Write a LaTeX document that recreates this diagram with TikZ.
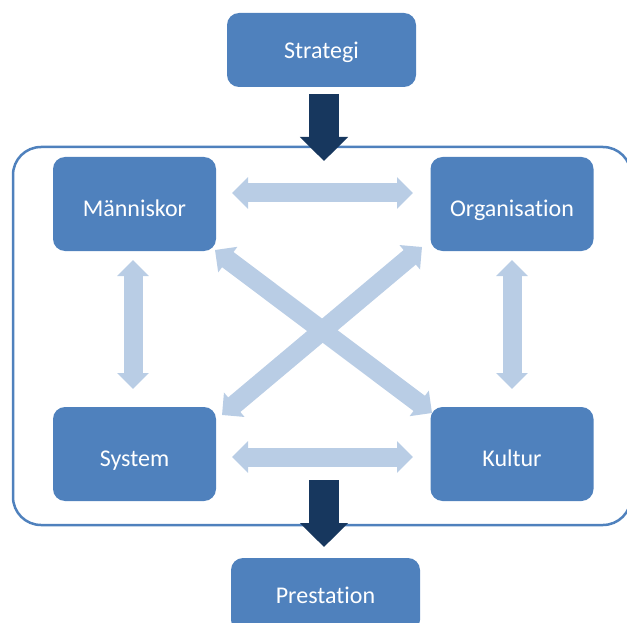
\documentclass[tikz,border=0pt]{standalone}
\usepackage{fontspec}
\setmainfont{Carlito}[Ligatures=NoCommon]
\usetikzlibrary{arrows.meta}
\definecolor{boxblue}{HTML}{4F81BD}
\definecolor{linkblue}{HTML}{B9CDE5}
\definecolor{flownavy}{HTML}{17375E}
\begin{document}
\begin{tikzpicture}[x=1pt,y=-1pt,
  block/.style={fill=boxblue, draw=none, rounded corners=12pt, text=white,
    font=\fontsize{24}{28}\selectfont, minimum width=163pt, minimum height=94pt,
    inner sep=0pt, text height=24pt, text depth=0pt},
  wideblock/.style={block, minimum width=189pt, minimum height=74pt, text height=18pt},
  link/.style={draw=linkblue, line width=19pt,
    {Triangle[width=31pt,length=16pt]}-{Triangle[width=31pt,length=16pt]}},
  flow/.style={draw=flownavy, line width=30pt, -{Triangle[width=47pt,length=24pt]}},
  frame/.style={draw=boxblue, line width=2.5pt, rounded corners=28pt}]
\useasboundingbox (0,0) rectangle (627,623);
\clip (0,0) rectangle (627,623);

% enclosing frame
\draw[frame] (13,147) rectangle (631,525);

% blocks
\node[wideblock] (strat) at (321.5,50) {Strategi};
\node[block] (mann) at (134.5,204) {Människor};
\node[block] (org) at (512,204) {Organisation};
\node[block] (sys) at (134.5,454) {System};
\node[block] (kult) at (512,454) {Kultur};
\node[wideblock, text height=16pt] (prest) at (325.5,595) {Prestation};

% ends of the two-way links
\coordinate (mo-a) at (232,193);
\coordinate (mo-b) at (413,193);
\coordinate (sk-a) at (232,457);
\coordinate (sk-b) at (413,457);
\coordinate (ms-a) at (133,260);
\coordinate (ms-b) at (133,389);
\coordinate (ok-a) at (512,260);
\coordinate (ok-b) at (512,389);
\coordinate (mk-a) at (215,250);
\coordinate (mk-b) at (432,413);
\coordinate (os-a) at (422,247);
\coordinate (os-b) at (222,415);

\draw[link] (mo-a) -- (mo-b);
\draw[link] (sk-a) -- (sk-b);
\draw[link] (ms-a) -- (ms-b);
\draw[link] (ok-a) -- (ok-b);
\draw[link] (mk-a) -- (mk-b);
\draw[link] (os-a) -- (os-b);

% flow into and out of the frame
\coordinate (in-a) at (324,94);
\coordinate (in-b) at (324,161);
\coordinate (out-a) at (324,480);
\coordinate (out-b) at (324,547);
\draw[flow] (in-a) -- (in-b);
\draw[flow] (out-a) -- (out-b);
\end{tikzpicture}
\end{document}
